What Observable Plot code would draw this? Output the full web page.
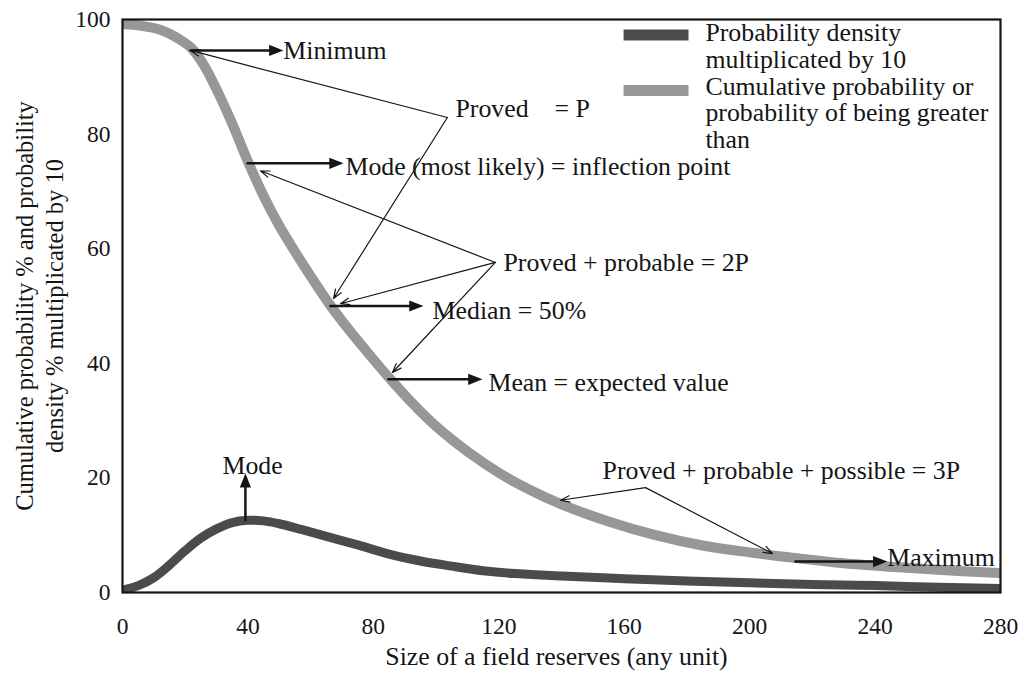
<!DOCTYPE html>
<html>
<head>
<meta charset="utf-8">
<script src="https://cdn.jsdelivr.net/npm/d3@7"></script>
<script src="https://cdn.jsdelivr.net/npm/@observablehq/plot@0.6"></script>
<style>
  html, body { margin: 0; padding: 0; background: #fff; }
  #chart { width: 1027px; height: 675px; }
</style>
</head>
<body>
<div id="chart"></div>
<script>
// ---------- data ----------
const xTicks = [0, 40, 80, 120, 160, 200, 240, 280];
const yTicks = [0, 20, 40, 60, 80, 100];
const xTitle = "Size of a field reserves (any unit)";
const yTitle = "Cumulative probability % and probability\ndensity % multiplicated by 10";

// cumulative probability (probability of being greater than), %
const cumX = [0, 6, 12, 18, 22, 26, 30, 35, 40, 45, 50, 55, 60, 66, 72, 78, 85, 92, 100, 110, 120, 130, 140, 155, 170, 185, 200, 215, 230, 250, 265, 280];
const cumY = [99.2, 98.9, 98.2, 96.6, 95.0, 92.0, 87.8, 81.8, 75.2, 69.2, 64.0, 59.5, 55.2, 50.3, 46.0, 42.0, 37.5, 33.3, 29.0, 24.6, 20.9, 17.9, 15.4, 12.4, 10.0, 8.2, 7.0, 6.0, 5.1, 4.3, 3.8, 3.4];

// probability density multiplicated by 10
const denX = [0, 5, 10, 15, 20, 25, 30, 35, 40, 45, 50, 57, 65, 75, 85, 95, 105, 115, 125, 140, 160, 180, 200, 220, 240, 260, 280];
const denY = [0.4, 1.2, 2.6, 4.8, 7.3, 9.5, 11.1, 12.2, 12.6, 12.5, 12.0, 11.0, 9.8, 8.3, 6.7, 5.5, 4.6, 3.8, 3.3, 2.9, 2.4, 2.0, 1.7, 1.4, 1.2, 0.9, 0.7];

// legend
const legendLabels = ["Probability density\nmultiplicated by 10", "Cumulative probability or\nprobability of being greater\nthan"];
const legendColors = ["#4b4b4b", "#979797"];
const legendSwatchY = [97.3, 87.6];
const legendTextY = [95.4, 83.75];
const legendSwatchX1 = 159.8, legendSwatchX2 = 180.5, legendTextX = 185.9;

// key points on the cumulative curve (thick arrows)
const keyLabels = ["Minimum", "Mode (most likely) = inflection point", "Median = 50%", "Mean = expected value", "Maximum"];
const keyFromX = [21.7, 39.9, 66.3, 84.8, 214.6];
const keyToX   = [51.3, 70.5, 96.0, 114.8, 243.9];
const keyY     = [94.6, 74.9, 50.0, 37.2, 5.4];
const keyTextX = [51.3, 71.1, 98.9, 116.7, 243.9];
const keyTextY = [94.6, 74.3, 49.2, 36.6, 6.1];

// reserve classes (thin pointer arrows)
const classLabels = ["Proved\u00a0\u00a0\u00a0 = P", "Proved + probable = 2P", "Proved + probable + possible = 3P"];
const classVertexX = [103.6, 118.9, 166.8];
const classVertexY = [82.9, 57.6, 18.3];
const classTextX = [106.2, 121.5, 153.1];
const classTextY = [84.5, 57.6, 21.3];
const pointerClass = [0, 0, 1, 1, 1, 2, 2];
const pointerX = [21.7, 67.3, 44.0, 69.5, 86.1, 139.7, 207.3];
const pointerY = [94.6, 51.3, 73.6, 50.4, 38.4, 16.1, 6.8];

// mode of the density
const modeLabel = "Mode";
const modeX = 39.2, modeFromY = 12.6, modeToY = 20.8, modeTextX = 41.5, modeTextY = 22.2;

// ---------- build ----------
const INK = "#151515";
const FS = 25.8;
const cum = cumX.map((x, i) => ({x, y: cumY[i]}));
const den = denX.map((x, i) => ({x, y: denY[i]}));
const keys = keyLabels.map((label, i) => ({label, x1: keyFromX[i], x2: keyToX[i], y: keyY[i], tx: keyTextX[i], ty: keyTextY[i]}));
const classes = classLabels.map((label, i) => ({label, tx: classTextX[i], ty: classTextY[i]}));
const pointers = pointerClass.map((c, i) => ({x1: classVertexX[c], y1: classVertexY[c], x2: pointerX[i], y2: pointerY[i]}));
const legend = legendLabels.map((label, i) => ({label, color: legendColors[i], sy: legendSwatchY[i], ty: legendTextY[i]}));

const triRight = {draw(ctx, size) { const s = Math.sqrt(size); ctx.moveTo(0, 0); ctx.lineTo(-1.15 * s, -0.45 * s); ctx.lineTo(-1.15 * s, 0.45 * s); ctx.closePath(); }};
const triUp = {draw(ctx, size) { const s = Math.sqrt(size); ctx.moveTo(0, 0); ctx.lineTo(-0.45 * s, 1.15 * s); ctx.lineTo(0.45 * s, 1.15 * s); ctx.closePath(); }};

const chart = Plot.plot({
  width: 1027,
  height: 675,
  marginLeft: 122,
  marginRight: 27,
  marginTop: 19,
  marginBottom: 83,
  style: {fontFamily: "'Liberation Serif', 'Times New Roman', serif", fontSize: "23px", color: INK, background: "#fff"},
  x: {domain: [0, 280]},
  y: {domain: [0, 100]},
  marks: [
    Plot.line(cum, {x: "x", y: "y", stroke: legendColors[1], strokeWidth: 10, curve: "catmull-rom", clip: true}),
    Plot.line(den, {x: "x", y: "y", stroke: legendColors[0], strokeWidth: 9, curve: "catmull-rom", clip: true}),
    Plot.frame({stroke: INK, strokeWidth: 2.2}),
    Plot.axisX({ticks: xTicks, tickSize: 0, tickPadding: 24.5, fontSize: 23.5, label: null, tickFormat: d => String(d)}),
    Plot.axisY({ticks: yTicks, tickSize: 0, tickPadding: 12, fontSize: 23.5, label: null, tickFormat: d => String(d)}),
    Plot.text([xTitle], {text: d => d, frameAnchor: "bottom", textAnchor: "middle", dy: 72, dx: -5, fontSize: FS, fill: INK}),
    Plot.text([yTitle], {text: d => d, frameAnchor: "left", textAnchor: "middle", dx: -84, rotate: -90, fontSize: 24.5, lineHeight: 1.22, fill: INK}),
    // legend
    Plot.link(legend, {x1: () => legendSwatchX1, x2: () => legendSwatchX2, y1: "sy", y2: "sy", stroke: "color", strokeWidth: 11, strokeLinecap: "butt"}),
    Plot.text(legend, {x: () => legendTextX, y: "ty", text: "label", textAnchor: "start", fontSize: FS, lineHeight: 1.03, fill: INK}),
    // thin pointers
    Plot.arrow(pointers, {x1: "x1", y1: "y1", x2: "x2", y2: "y2", stroke: INK, strokeWidth: 1.2, headLength: 12, headAngle: 40}),
    Plot.text(classes, {x: "tx", y: "ty", text: "label", textAnchor: "start", fontSize: FS, fill: INK}),
    // thick arrows
    Plot.arrow(keys, {x1: "x1", x2: "x2", y1: "y", y2: "y", headLength: 0, insetEnd: 8, stroke: INK, strokeWidth: 2.5}),
    Plot.dot(keys, {x: "x2", y: "y", symbol: triRight, r: 7, fill: INK, stroke: "none"}),
    Plot.text(keys, {x: "tx", y: "ty", text: "label", textAnchor: "start", fontSize: FS, fill: INK}),
    // mode of density
    Plot.arrow([modeLabel], {x1: () => modeX, x2: () => modeX, y1: () => modeFromY, y2: () => modeToY, headLength: 0, insetEnd: 8, stroke: INK, strokeWidth: 2.5}),
    Plot.dot([modeLabel], {x: () => modeX, y: () => modeToY, symbol: triUp, r: 7, fill: INK, stroke: "none"}),
    Plot.text([modeLabel], {x: () => modeTextX, y: () => modeTextY, text: d => d, fontSize: FS, fill: INK})
  ]
});
document.getElementById("chart").appendChild(chart);
</script>
</body>
</html>
